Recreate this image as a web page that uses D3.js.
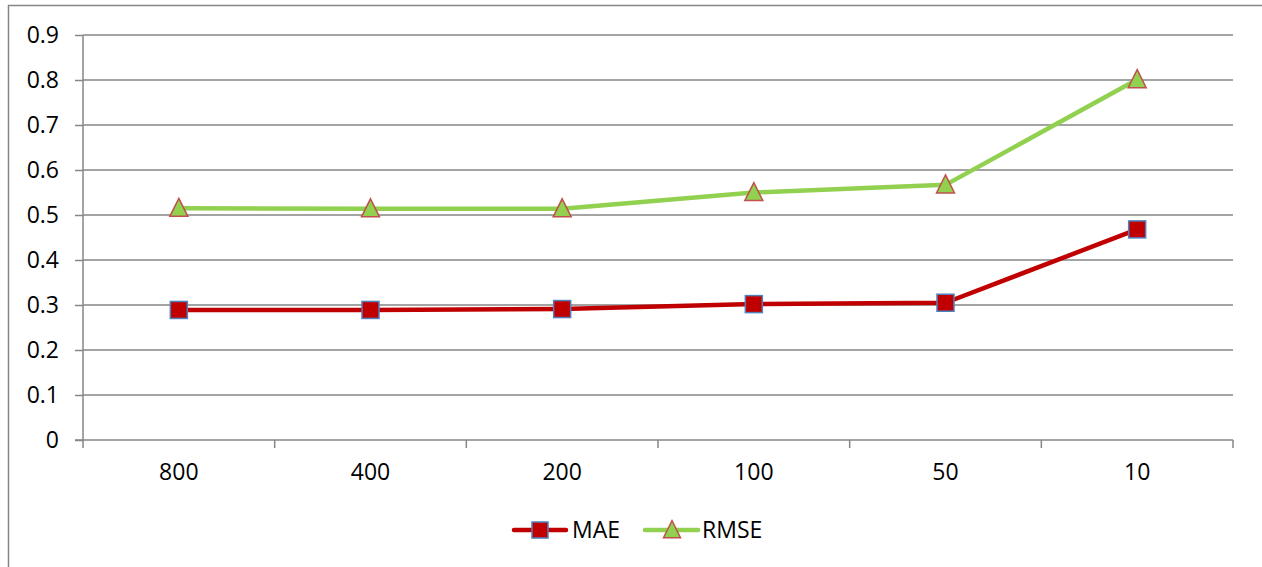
<!DOCTYPE html>
<html><head><meta charset="utf-8">
<script src="https://cdn.jsdelivr.net/npm/d3@7"></script>
<style>body{margin:0;background:#fff}svg{display:block}text{font-family:"Open Sans",sans-serif;fill:#000}</style>
</head><body><svg id="c" width="1262" height="567"></svg>
<script>
const categories = ["800","400","200","100","50","10"];
const maeValues = [0.289, 0.289, 0.291, 0.302, 0.305, 0.468];
const rmseValues = [0.515, 0.514, 0.514, 0.550, 0.567, 0.801];
const yTicks = [0,0.1,0.2,0.3,0.4,0.5,0.6,0.7,0.8,0.9];
const seriesNames = ["MAE","RMSE"];

const FONT = '"Open Sans", sans-serif';
const FS = 23;
const svg = d3.select("#c");
const grid = "#868686";
svg.append("rect").attr("x",8.5).attr("y",5.5).attr("width",1262).attr("height",600).attr("fill","none").attr("stroke",grid).attr("stroke-width",1.5);

const L=83, R=1233, T=35, B=440;
const x = d3.scaleBand().domain(categories).range([L,R]);
const y = d3.scaleLinear().domain([0,0.9]).range([B,T]);

// gridlines
svg.append("g").selectAll("line").data(yTicks.slice(1)).join("line")
  .attr("x1",L).attr("x2",R).attr("y1",d=>y(d)).attr("y2",d=>y(d))
  .attr("stroke",grid).attr("stroke-width",1.5);

// y axis
const ya = svg.append("g").attr("transform",`translate(${L},0)`)
  .call(d3.axisLeft(y).tickValues(yTicks).tickFormat(d=>d===0?"0":d3.format(".1f")(d)).tickSize(8).tickPadding(16));
ya.select(".domain").attr("stroke",grid).attr("stroke-width",1.5).attr("d",`M0,${T}V${B}`);
ya.selectAll(".tick line").attr("stroke",grid).attr("stroke-width",1.5);
ya.selectAll(".tick text").attr("font-size",FS).attr("font-family",FONT);

// x axis
const xa = svg.append("g").attr("transform",`translate(0,${B})`)
  .call(d3.axisBottom(x).tickSize(0).tickPadding(24));
xa.select(".domain").attr("stroke",grid).attr("stroke-width",1.5).attr("d",`M${L-8},0H${R}`);
xa.selectAll(".tick text").attr("font-size",FS).attr("font-family",FONT);
const bounds = categories.map(c=>x(c)).concat([R]);
svg.append("g").selectAll("line").data(bounds).join("line")
  .attr("x1",d=>d).attr("x2",d=>d).attr("y1",B).attr("y2",B+8).attr("stroke",grid).attr("stroke-width",1.5);

const cx = c => x(c)+x.bandwidth()/2;
const line = d3.line().x((d,i)=>cx(categories[i])).y(d=>y(d));

function drawSeries(vals,color){
  svg.append("path").datum(vals).attr("d",line).attr("fill","none").attr("stroke",color).attr("stroke-width",4.5).attr("stroke-linejoin","round").attr("stroke-linecap","round");
}
drawSeries(rmseValues,"#92D050");
drawSeries(maeValues,"#C00000");

const tri = (px,py,s)=>`M${px},${py-s*0.55}L${px+s/2},${py+s*0.45}L${px-s/2},${py+s*0.45}Z`;
svg.append("g").selectAll("path").data(rmseValues).join("path")
  .attr("d",(d,i)=>tri(cx(categories[i]),y(d),18))
  .attr("fill","#92D050").attr("stroke","#C0504D").attr("stroke-width",1.5);
svg.append("g").selectAll("rect").data(maeValues).join("rect")
  .attr("x",(d,i)=>cx(categories[i])-8.5).attr("y",d=>y(d)-8.5).attr("width",17).attr("height",17)
  .attr("fill","#C00000").attr("stroke","#4F81BD").attr("stroke-width",1.5);

// legend
const lg = svg.append("g");
const ly = 530;
lg.append("line").attr("x1",514).attr("x2",566).attr("y1",ly).attr("y2",ly).attr("stroke","#C00000").attr("stroke-width",4.5).attr("stroke-linecap","round");
lg.append("rect").attr("x",540-8).attr("y",ly-8).attr("width",16).attr("height",16).attr("fill","#C00000").attr("stroke","#4F81BD").attr("stroke-width",1.5);
lg.append("text").attr("x",572).attr("y",538).attr("font-size",FS).attr("font-family",FONT).text(seriesNames[0]);
lg.append("line").attr("x1",645).attr("x2",698).attr("y1",ly).attr("y2",ly).attr("stroke","#92D050").attr("stroke-width",4.5).attr("stroke-linecap","round");
lg.append("path").attr("d",tri(672,ly,17)).attr("fill","#92D050").attr("stroke","#C0504D").attr("stroke-width",1.5);
lg.append("text").attr("x",702).attr("y",538).attr("font-size",FS).attr("font-family",FONT).text(seriesNames[1]);
</script></body></html>
